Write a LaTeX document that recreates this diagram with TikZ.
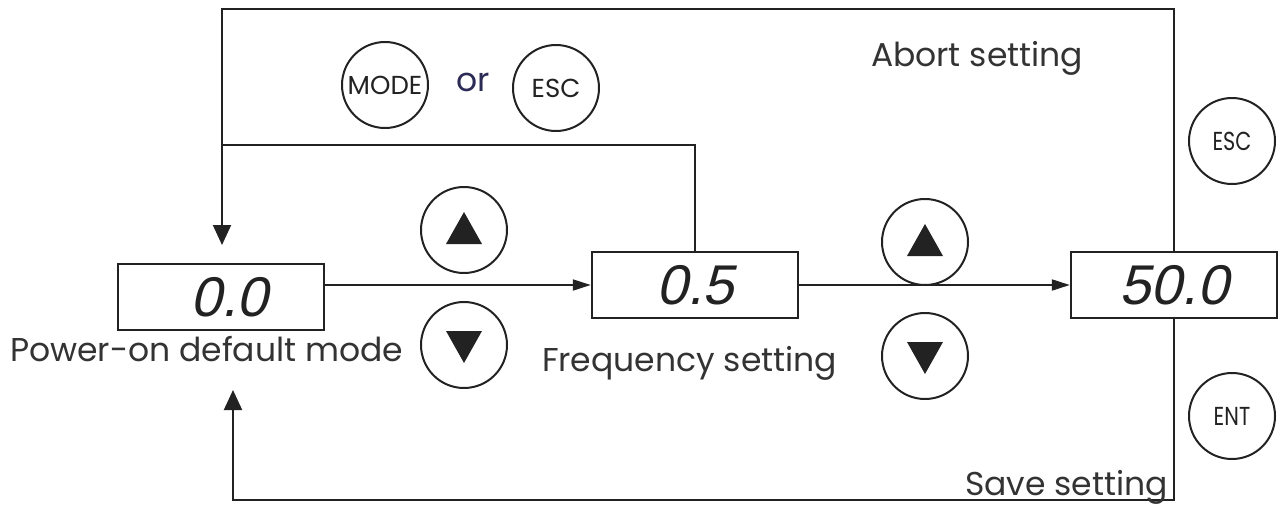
\documentclass[tikz,border=0pt]{standalone}
\usepackage{fontspec}
\setmainfont{Poppins}
\newfontfamily\segfont[FakeSlant=0.22]{Liberation Sans}
\usetikzlibrary{arrows.meta,calc}
\definecolor{ink}{HTML}{222222}
\definecolor{txt}{HTML}{333333}
\definecolor{orcol}{HTML}{2B2B55}
\begin{document}
\begin{tikzpicture}[x=1pt,y=-1pt, line width=2pt, draw=ink,
  disp/.style={draw=ink, line width=2.4pt, minimum width=206pt, minimum height=66pt, inner sep=0pt, text=ink, font=\segfont\fontsize{56}{56}\selectfont},
  btn/.style={draw=ink, circle, line width=2pt, minimum size=86pt, inner sep=0pt, text=ink, font=\fontsize{26}{26}\selectfont},
  lbl/.style={inner sep=0pt, text=txt, font=\fontsize{33}{33}\selectfont},
  arr/.style={-{Triangle[length=18pt,width=11pt]}},
  varr/.style={-{Triangle[length=20pt,width=18pt]}}]
\useasboundingbox (0,0) rectangle (1285,506);
% displays
\node[disp] (b1) at (221,297) {\hspace*{16pt}0.0};
\node[disp] (b2) at (695,285) {0.5};
\node[disp] (b3) at (1174,285) {50.0};
% buttons
\node[btn] (mode) at (385,85) {MODE};
\node[lbl, text=orcol] (or) at (473,82) {or};
\node[btn] (esc1) at (556,88) {ESC};
\node[btn] (up1) at (464,230) {};
\node[btn] (dn1) at (464,345) {};
\node[btn] (up2) at (925,242) {};
\node[btn] (dn2) at (925,356) {};
\node[btn] (esc2) at (1232,141) {\scalebox{0.8}[1]{ESC}};
\node[btn] (ent) at (1232,416) {\scalebox{0.8}[1]{ENT}};
% triangles
\foreach \b in {up1,up2}{
  \fill[ink] ([shift={(0,-18)}]\b.center) -- ([shift={(-18,14)}]\b.center) -- ([shift={(18,14)}]\b.center) -- cycle;}
\foreach \b in {dn1,dn2}{
  \fill[ink] ([shift={(0,18)}]\b.center) -- ([shift={(-18,-14)}]\b.center) -- ([shift={(18,-14)}]\b.center) -- cycle;}
% connectors
\coordinate (tl) at (222,9);
\coordinate (ml) at (222,145);
\coordinate (tip1) at (222,245);
\coordinate (bl) at (233,500);
\coordinate (tip2) at (233,390);
\draw[varr] (b3.north) |- (tl) -- (tip1);
\draw (b2.north) |- (ml);
\draw[varr] (b3.south) |- (bl) -- (tip2);
\draw[arr] (b1.east |- b2.west) -- (b2.west);
\draw[arr] (b2.east) -- (b3.west);
% labels
\node[lbl, anchor=base west] (abort) at (870,66) {Abort setting};
\node[lbl, anchor=base west] (pwr) at (9,361) {Power-on default mode};
\node[lbl, anchor=base west] (freq) at (541,371) {Frequency setting};
\node[lbl, anchor=base east] (save) at (1169,495) {Save setting};
\end{tikzpicture}
\end{document}
